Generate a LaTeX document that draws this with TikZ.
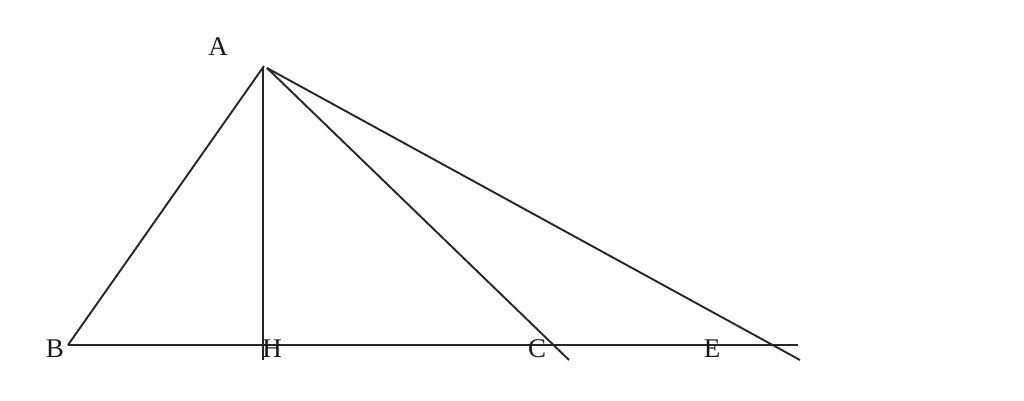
\documentclass[tikz,border=0pt]{standalone}
\usepackage{fontspec}
\setmainfont{Liberation Serif}
\begin{document}
\begin{tikzpicture}[x=1pt,y=-1pt,
  seg/.style={line width=1.9pt,draw=black!85},
  lbl/.style={font=\fontsize{27}{27}\selectfont,text=black!90,inner sep=0pt}]
\useasboundingbox (0,0) rectangle (1024,401);
\coordinate (A) at (264,66);
\coordinate (A2) at (267,68);
\coordinate (B) at (68,345);
\coordinate (H) at (263,360);
\coordinate (Ht) at (263,68);
\coordinate (Cend) at (569,360);
\coordinate (Eend) at (800,360);
\coordinate (Bend) at (798,345);
\draw[seg] (B) -- (Bend);
\draw[seg] (B) -- (A);
\draw[seg] (Ht) -- (H);
\draw[seg] (A2) -- (Cend);
\draw[seg] (A2) -- (Eend);
\node[lbl] (la) at (218,47) {A};
\node[lbl] (lb) at (55,349) {B};
\node[lbl] (lh) at (272,349) {H};
\node[lbl] (lc) at (537,349) {C};
\node[lbl] (le) at (712,349) {E};
\end{tikzpicture}
\end{document}
